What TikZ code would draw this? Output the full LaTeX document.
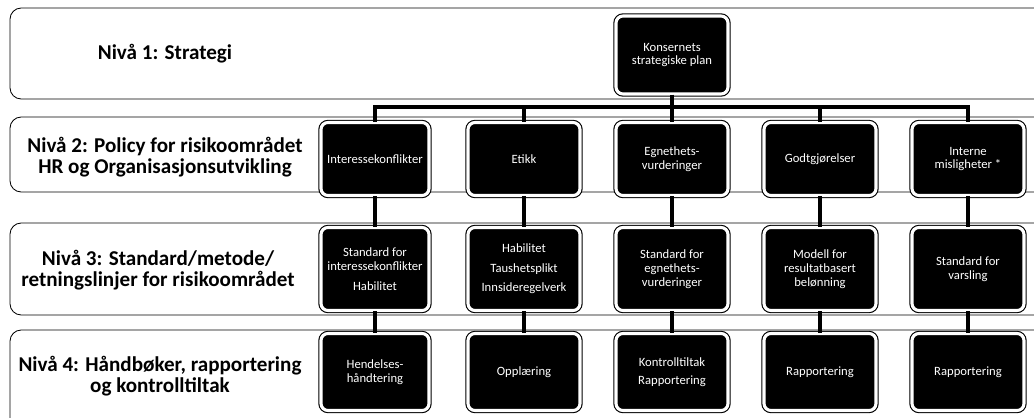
\documentclass[tikz,border=0pt]{standalone}
\usepackage{fontspec}
\setmainfont{Carlito}

\begin{document}
\begin{tikzpicture}[x=0.025cm, y=-0.025cm,
    niva/.style={rounded corners=8pt, line width=0.6pt},
    boks/.style={draw=black, fill=black, double=white, double distance=2.2pt,
      line width=0.8pt, rounded corners=5pt, text=white, align=center,
      inner sep=0pt, minimum width=2.8cm, font=\fontsize{9}{9.9}\selectfont},
    etikett/.style={align=center, font=\fontsize{15}{14.6}\selectfont\bfseries},
    linje/.style={line width=2.6pt}]
      % \draw[help lines, gray!50, very thin] (0,0) grid[step=100] (1034,417);
      \useasboundingbox (0,0) rectangle (1034,417);
      \clip (0,0) rectangle (1034,417);

      % bands
      \draw[niva] (10,8) rectangle (1070,99);
      \draw[niva] (10,117) rectangle (1070,192);
      \draw[niva] (10,223) rectangle (1070,315);
      \draw[niva] (10,330) rectangle (1070,450);

      \node[etikett] (niva1) at (165,54) {Nivå 1: Strategi};
      \node[etikett] (niva2) at (165,157) {Nivå 2: Policy for risikoområdet\\HR og Organisasjonsutvikling};
      \node[etikett] (niva3) at (158,270) {Nivå 3: Standard/metode/\\retningslinjer for risikoområdet};
      \node[etikett] (niva4) at (160,376) {Nivå 4: Håndbøker, rapportering\\og kontrolltiltak};

      % nivå 1
      \node[boks, minimum height=1.95cm] (plan) at (672,55) {Konsernets\\strategiske plan};

      % nivå 2
      \node[boks, minimum height=1.825cm, minimum width=2.7cm] (interesse) at (375,159) {Interessekonflikter};
      \node[boks, minimum height=1.825cm] (etikk) at (524,159) {Etikk};
      \node[boks, minimum height=1.825cm] (egnethet) at (672,159) {Egnethets-\\vurderinger};
      \node[boks, minimum height=1.825cm] (godtgj) at (820,159) {Godtgjørelser};
      \node[boks, minimum height=1.825cm] (misligh) at (968,159) {Interne\\misligheter *};

      % nivå 3
      \node[boks, minimum height=2.075cm, minimum width=2.7cm] (std-interesse) at (375,269) {Standard for\\interessekonflikter\\[4pt]Habilitet};
      \node[boks, minimum height=2.075cm] (habilitet) at (524,269) {Habilitet\\[4pt]Taushetsplikt\\[4pt]Innsideregelverk};
      \node[boks, minimum height=2.075cm] (std-egnethet) at (672,269) {Standard for\\egnethets-\\vurderinger};
      \node[boks, minimum height=2.075cm] (modell) at (820,269) {Modell for\\resultatbasert\\belønning};
      \node[boks, minimum height=2.075cm] (std-varsling) at (968,269) {Standard for\\varsling};

      % nivå 4
      \node[boks, minimum height=1.925cm, minimum width=2.7cm] (hendelse) at (375,372) {Hendelses-\\håndtering};
      \node[boks, minimum height=1.925cm] (opplaering) at (524,372) {Opplæring};
      \node[boks, minimum height=1.925cm] (kontroll) at (672,372) {Kontrolltiltak\\[3pt]Rapportering};
      \node[boks, minimum height=1.925cm] (rapp4) at (820,372) {Rapportering};
      \node[boks, minimum height=1.925cm] (rapp5) at (968,372) {Rapportering};

      % connectors
      \coordinate (bus) at (672,107);
      \draw[linje] (plan.south) -- (egnethet.north);
      \draw[linje] (interesse.north) |- (bus) -| (misligh.north);
      \draw[linje] (etikk.north) -- (etikk.north |- bus);
      \draw[linje] (godtgj.north) -- (godtgj.north |- bus);
      \foreach \a/\b in {interesse/std-interesse, etikk/habilitet, egnethet/std-egnethet,
        godtgj/modell, misligh/std-varsling, std-interesse/hendelse, habilitet/opplaering,
        std-egnethet/kontroll, modell/rapp4, std-varsling/rapp5}
        \draw[linje] (\a) -- (\b);
    \end{tikzpicture}
\end{document}
